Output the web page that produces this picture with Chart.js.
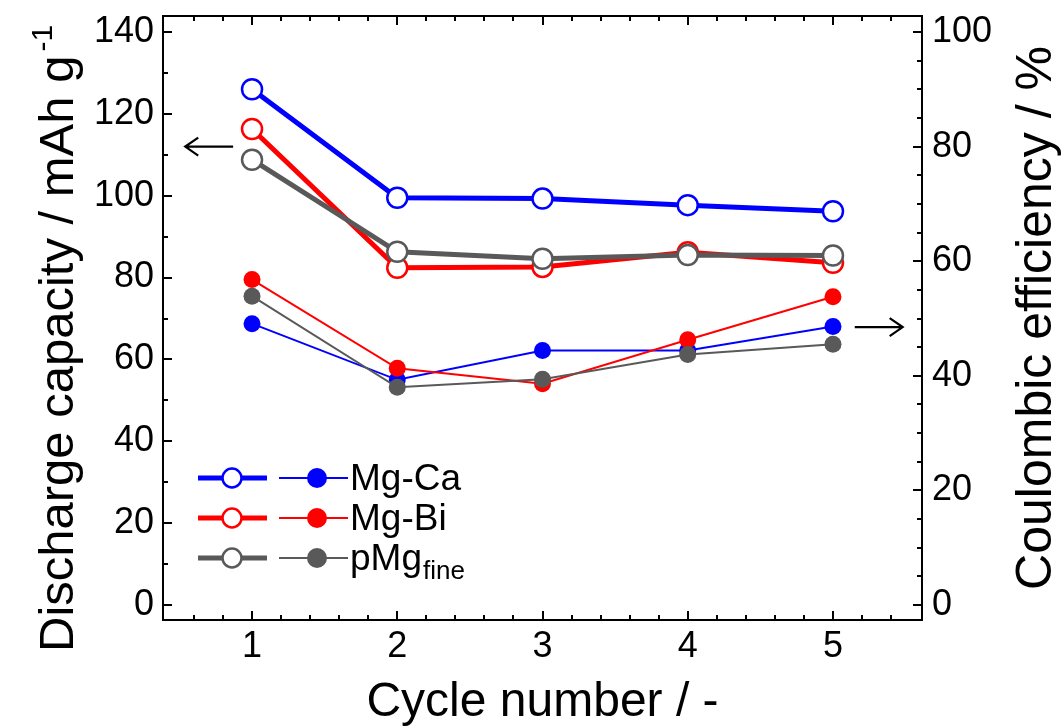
<!DOCTYPE html>
<html>
<head>
<meta charset="utf-8">
<title>Discharge capacity and Coulombic efficiency</title>
<script src="https://cdn.jsdelivr.net/npm/chart.js@4.4.1/dist/chart.umd.min.js"></script>
<style>
  html, body { margin: 0; padding: 0; background: #ffffff; }
  #wrap { width: 1063px; height: 726px; position: relative; }
</style>
</head>
<body>
<div id="wrap"><canvas id="c"></canvas></div>
<script>
// ---- data ----
const cycles = [1, 2, 3, 4, 5];

// discharge capacity, mAh g-1 (left axis, open circles)
const capMgCa = [126.0, 99.5, 99.3, 97.7, 96.2];
const capMgBi = [116.3, 82.4, 82.6, 86.2, 83.6];
const capPMg  = [108.8, 86.3, 84.6, 85.5, 85.4];

// Coulombic efficiency, % (right axis, filled circles)
const ceMgCa = [49.1, 39.3, 44.4, 44.4, 48.6];
const ceMgBi = [56.8, 41.3, 38.6, 46.3, 53.8];
const cePMg  = [53.9, 38.0, 39.4, 43.7, 45.5];

// tick labels
const cycleTicks = [1, 2, 3, 4, 5];
const capTicks = [0, 20, 40, 60, 80, 100, 120, 140];
const ceTicks = [0, 20, 40, 60, 80, 100];

// series names and colours
const seriesNames = ['Mg-Ca', 'Mg-Bi', 'pMg'];
const seriesSub = ['', '', 'fine'];
const seriesColors = ['#0000ff', '#ff0000', '#595959'];

// axis ranges
const X_MIN = 0.387, X_MAX = 5.613;
const CAP_MIN = -3.665, CAP_MAX = 143.91;
const CE_MIN = CAP_MIN * 100 / 140, CE_MAX = CAP_MAX * 100 / 140;

// arrows telling which axis a curve family belongs to
const capArrow = { axis: 'y', value: 112, from: 0.87, to: 0.54 };
const ceArrow = { axis: 'y1', value: 48.5, from: 5.15, to: 5.48 };

const FONT = '"Liberation Sans", Arial, Helvetica, sans-serif';

function pts(values) {
  return cycles.map((c, i) => ({ x: c, y: values[i] }));
}

function capDataset(i, values, order) {
  return {
    label: seriesNames[i] + ' capacity',
    data: pts(values),
    yAxisID: 'y',
    borderColor: seriesColors[i],
    borderWidth: 5,
    pointRadius: 10,
    pointBorderWidth: 2.5,
    pointBackgroundColor: '#ffffff',
    pointBorderColor: seriesColors[i],
    tension: 0,
    order: order
  };
}

function ceDataset(i, values, order) {
  return {
    label: seriesNames[i] + ' efficiency',
    data: pts(values),
    yAxisID: 'y1',
    borderColor: seriesColors[i],
    borderWidth: 2,
    pointRadius: 8.5,
    pointBorderWidth: 0,
    pointBackgroundColor: seriesColors[i],
    pointBorderColor: seriesColors[i],
    tension: 0,
    order: order
  };
}

function minorRange(min, max, step, majors) {
  const out = [];
  for (let k = Math.ceil(min / step); k * step <= max + 1e-9; k++) {
    const v = +(k * step).toFixed(6);
    if (!majors.some(m => Math.abs(m - v) < 1e-6)) out.push(v);
  }
  return out;
}

const cycleMinor = minorRange(0.6, 5.4, 0.2, cycleTicks);
const capMinor = minorRange(0, 140, 10, capTicks);
const ceMinor = minorRange(0, 100, 5, ceTicks);

// frame, inward ticks, axis titles, arrows and the two-sample legend
const decorations = {
  id: 'decorations',
  afterDraw(chart) {
    const { ctx, chartArea: a, scales } = chart;
    const sx = scales.x, sy = scales.y, sy1 = scales.y1;
    const MAJ = 9, MIN = 5;
    ctx.save();
    ctx.strokeStyle = '#000';
    ctx.lineWidth = 2;
    ctx.lineCap = 'butt';
    ctx.strokeRect(a.left, a.top, a.right - a.left, a.bottom - a.top);

    ctx.beginPath();
    const xTick = (v, len) => {
      const p = Math.round(sx.getPixelForValue(v));
      ctx.moveTo(p, a.bottom); ctx.lineTo(p, a.bottom - len);
      ctx.moveTo(p, a.top); ctx.lineTo(p, a.top + len);
    };
    cycleTicks.forEach(v => xTick(v, MAJ));
    cycleMinor.forEach(v => xTick(v, MIN));
    const lTick = (v, len) => {
      const p = Math.round(sy.getPixelForValue(v));
      ctx.moveTo(a.left, p); ctx.lineTo(a.left + len, p);
    };
    capTicks.forEach(v => lTick(v, MAJ));
    capMinor.forEach(v => lTick(v, MIN));
    const rTick = (v, len) => {
      const p = Math.round(sy1.getPixelForValue(v));
      ctx.moveTo(a.right, p); ctx.lineTo(a.right - len, p);
    };
    ceTicks.forEach(v => rTick(v, MAJ));
    ceMinor.forEach(v => rTick(v, MIN));
    ctx.stroke();

    // arrows
    const drawArrow = (arr) => {
      const sc = scales[arr.axis];
      const y = sc.getPixelForValue(arr.value);
      const x0 = sx.getPixelForValue(arr.from);
      const x1 = sx.getPixelForValue(arr.to);
      const dir = x1 > x0 ? 1 : -1;
      ctx.lineWidth = 2.2;
      ctx.beginPath();
      ctx.moveTo(x0, y); ctx.lineTo(x1, y);
      ctx.moveTo(x1 - dir * 13, y - 9); ctx.lineTo(x1, y); ctx.lineTo(x1 - dir * 13, y + 9);
      ctx.stroke();
    };
    drawArrow(capArrow);
    drawArrow(ceArrow);

    // axis titles
    ctx.fillStyle = '#000';
    ctx.textBaseline = 'alphabetic';

    ctx.font = '48px ' + FONT;
    ctx.textAlign = 'center';
    ctx.fillText('Cycle number / -', (a.left + a.right) / 2, 716);

    ctx.save();
    ctx.font = '50px ' + FONT;
    ctx.translate(1051, (a.top + a.bottom) / 2);
    ctx.rotate(-Math.PI / 2);
    ctx.fillText('Coulombic efficiency / %', 0, 0);
    ctx.restore();

    ctx.save();
    ctx.font = '49px ' + FONT;
    ctx.translate(73, 652);
    ctx.rotate(-Math.PI / 2);
    ctx.textAlign = 'left';
    const main = 'Discharge capacity / mAh g';
    ctx.fillText(main, 0, 0);
    const w = ctx.measureText(main).width;
    ctx.font = '30px ' + FONT;
    ctx.fillText('-1', w + 4, -21);
    ctx.restore();

    // legend
    const rows = [478, 518, 558];
    rows.forEach((ry, i) => {
      const col = seriesColors[i];
      ctx.strokeStyle = col;
      ctx.lineWidth = 5;
      ctx.beginPath(); ctx.moveTo(198, ry); ctx.lineTo(267, ry); ctx.stroke();
      ctx.beginPath(); ctx.arc(232, ry, 9.5, 0, Math.PI * 2);
      ctx.fillStyle = '#fff'; ctx.fill();
      ctx.lineWidth = 2.5; ctx.stroke();
      ctx.lineWidth = 2;
      ctx.beginPath(); ctx.moveTo(279, ry); ctx.lineTo(348, ry); ctx.stroke();
      ctx.beginPath(); ctx.arc(317, ry, 10, 0, Math.PI * 2);
      ctx.fillStyle = col; ctx.fill();

      ctx.fillStyle = '#000';
      ctx.textAlign = 'left';
      ctx.font = '37px ' + FONT;
      ctx.fillText(seriesNames[i], 350, ry + 12);
      if (seriesSub[i]) {
        const tw = ctx.measureText(seriesNames[i]).width;
        ctx.font = '26px ' + FONT;
        ctx.fillText(seriesSub[i], 350 + tw + 1, ry + 21);
      }
    });
    ctx.restore();
  }
};

const setTicks = (values) => (scale) => { scale.ticks = values.map(v => ({ value: v })); };

new Chart(document.getElementById('c'), {
  type: 'line',
  data: {
    datasets: [
      capDataset(0, capMgCa, 6),
      capDataset(1, capMgBi, 5),
      capDataset(2, capPMg, 4),
      ceDataset(0, ceMgCa, 3),
      ceDataset(1, ceMgBi, 2),
      ceDataset(2, cePMg, 1)
    ]
  },
  options: {
    responsive: true,
    maintainAspectRatio: false,
    animation: false,
    devicePixelRatio: 1,
    layout: { padding: { top: 16, left: 0, right: 0, bottom: 0 } },
    plugins: { legend: { display: false }, tooltip: { enabled: false } },
    scales: {
      x: {
        type: 'linear',
        min: X_MIN, max: X_MAX,
        afterBuildTicks: setTicks(cycleTicks),
        afterFit: (s) => { s.height = 106; s.paddingLeft = 0; s.paddingRight = 0; },
        grid: { display: false, drawTicks: false },
        border: { display: false },
        ticks: { font: { family: FONT, size: 36 }, color: '#000', padding: 5, maxRotation: 0 }
      },
      y: {
        type: 'linear', position: 'left',
        min: CAP_MIN, max: CAP_MAX,
        afterBuildTicks: setTicks(capTicks),
        afterFit: (s) => { s.width = 163; s.paddingTop = 0; s.paddingBottom = 0; },
        grid: { display: false, drawTicks: false },
        border: { display: false },
        ticks: { font: { family: FONT, size: 36 }, color: '#000', padding: 9 }
      },
      y1: {
        type: 'linear', position: 'right',
        min: CE_MIN, max: CE_MAX,
        afterBuildTicks: setTicks(ceTicks),
        afterFit: (s) => { s.width = 141; s.paddingTop = 0; s.paddingBottom = 0; },
        grid: { display: false, drawTicks: false },
        border: { display: false },
        ticks: { font: { family: FONT, size: 36 }, color: '#000', padding: 10 }
      }
    }
  },
  plugins: [decorations]
});
</script>
</body>
</html>
